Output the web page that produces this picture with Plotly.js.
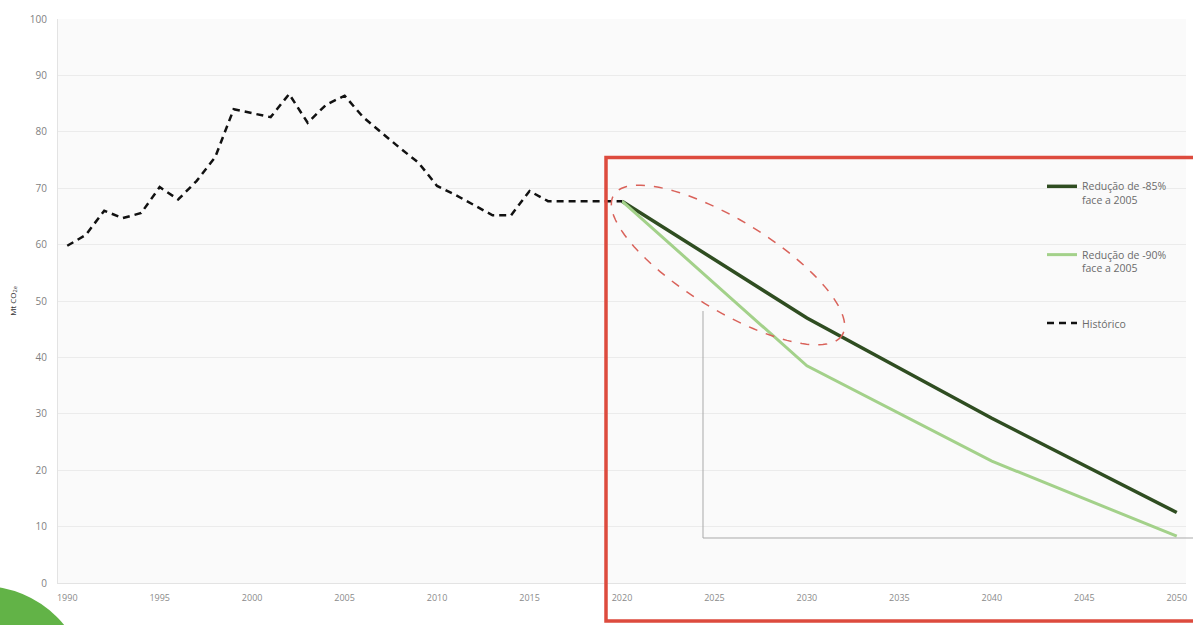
<!DOCTYPE html>
<html>
<head>
<meta charset="utf-8">
<script src="https://cdn.plot.ly/plotly-3.0.1.min.js"></script>
<style>
  html, body { margin: 0; padding: 0; background: #ffffff; }
  #chart { width: 1193px; height: 625px; }
</style>
</head>
<body>
<div id="chart"></div>
<script>
// ---- Data ----
const histYears = [1990,1991,1992,1993,1994,1995,1996,1997,1998,1999,2000,2001,2002,2003,2004,2005,2006,2007,2008,2009,2010,2011,2012,2013,2014,2015,2016,2017,2018,2019,2020];
const histValues = [59.8,61.7,66.0,64.7,65.6,70.2,68.0,71.3,75.5,84.0,83.3,82.6,86.7,81.6,84.8,86.4,82.6,79.8,77.1,74.5,70.4,68.8,67.0,65.2,65.2,69.5,67.7,67.7,67.7,67.7,67.7];

const scenYears = [2020, 2030, 2040, 2050];
const red85Values = [67.7, 47.0, 29.2, 12.5];
const red90Values = [67.7, 38.5, 21.6, 8.3];

const xTickYears = [1990,1995,2000,2005,2010,2015,2020,2025,2030,2035,2040,2045,2050];
const yTickValues = [0,10,20,30,40,50,60,70,80,90,100];

const name85 = "Redução de -85%<br>face a 2005";
const name90 = "Redução de -90%<br>face a 2005";
const nameHist = "Histórico";

// ---- Layout helpers (pixel -> paper) ----
const PL = 58, PR = 1186, PT = 19, PB = 583;
const W = 1193, H = 625;
const px = x => (x - PL) / (PR - PL);
const py = y => (PB - y) / (PB - PT);

// rotated dashed ellipse path
function ellipsePath(cx, cy, a, b, deg, n) {
  const t = deg * Math.PI / 180;
  let d = "";
  for (let i = 0; i <= n; i++) {
    const u = 2 * Math.PI * i / n;
    const X = cx + a * Math.cos(u) * Math.cos(t) - b * Math.sin(u) * Math.sin(t);
    const Y = cy + a * Math.cos(u) * Math.sin(t) + b * Math.sin(u) * Math.cos(t);
    d += (i === 0 ? "M" : "L") + px(X).toFixed(5) + "," + py(Y).toFixed(5);
  }
  return d + "Z";
}

const traces = [
  {
    x: scenYears, y: red85Values, name: name85, type: "scatter", mode: "lines",
    line: { color: "#2f4d21", width: 3.5 }, legendgroup: "a"
  },
  {
    x: scenYears, y: red90Values, name: name90, type: "scatter", mode: "lines",
    line: { color: "#a3d18a", width: 3 }, legendgroup: "b"
  },
  {
    x: histYears, y: histValues, name: nameHist, type: "scatter", mode: "lines",
    line: { color: "#111111", width: 2.5, dash: "7px,5px" }, legendgroup: "c"
  }
];

const layout = {
  width: W, height: H,
  margin: { l: PL, r: W - PR, t: PT, b: H - PB, pad: 0 },
  paper_bgcolor: "#ffffff",
  plot_bgcolor: "#fafafa",
  font: { family: "Open Sans, Liberation Sans, sans-serif", color: "#808080", size: 10 },
  showlegend: true,
  legend: {
    x: px(1042), y: py(173), xanchor: "left", yanchor: "top",
    bgcolor: "rgba(0,0,0,0)", borderwidth: 0,
    font: { size: 10.5, color: "#6b6b6b" },
    tracegroupgap: 38, valign: "top", itemwidth: 30
  },
  xaxis: {
    range: [1989.5, 2050.5], tickmode: "array", tickvals: xTickYears,
    ticktext: xTickYears.map(String),
    showgrid: false, zeroline: false, showline: true, linecolor: "#e3e3e3", linewidth: 1,
    ticks: "outside", ticklen: 6, tickcolor: "rgba(0,0,0,0)",
    tickfont: { size: 9, color: "#8a8a8a" }, fixedrange: true
  },
  yaxis: {
    range: [0, 100], tickmode: "array", tickvals: yTickValues,
    showgrid: true, gridcolor: "#ebebeb", gridwidth: 1,
    zeroline: false, showline: true, linecolor: "#e3e3e3", linewidth: 1,
    ticks: "outside", ticklen: 8, tickcolor: "rgba(0,0,0,0)",
    tickfont: { size: 10, color: "#7f7f7f" },
    title: { text: "Mt CO<sub>2e</sub>", font: { size: 8, color: "#333333" }, standoff: 12 },
    fixedrange: true
  },
  shapes: [
    // gray bracket line
    { type: "path", xref: "paper", yref: "paper",
      path: "M" + px(703) + "," + py(311) + "L" + px(703) + "," + py(538) + "L" + px(1200) + "," + py(538),
      line: { color: "#a9a9a9", width: 1 }, layer: "above" },
    // red rectangle
    { type: "rect", xref: "paper", yref: "paper",
      x0: px(606), x1: px(1205), y0: py(621), y1: py(157.5),
      line: { color: "#dd4b3e", width: 3.5 }, fillcolor: "rgba(0,0,0,0)", layer: "above" },
    // red dashed ellipse
    { type: "path", xref: "paper", yref: "paper",
      path: ellipsePath(728, 265, 134, 45, 31.5, 120),
      line: { color: "#d9625a", width: 1.5, dash: "dash" }, layer: "above" },
    // green circle bottom-left
    { type: "circle", xref: "paper", yref: "paper",
      x0: px(-18 - 106), x1: px(-18 + 106), y0: py(692 + 106), y1: py(692 - 106),
      line: { width: 0 }, fillcolor: "#62b347", layer: "above" }
  ]
};

Plotly.newPlot("chart", traces, layout, { displayModeBar: false, staticPlot: true });
</script>
</body>
</html>
